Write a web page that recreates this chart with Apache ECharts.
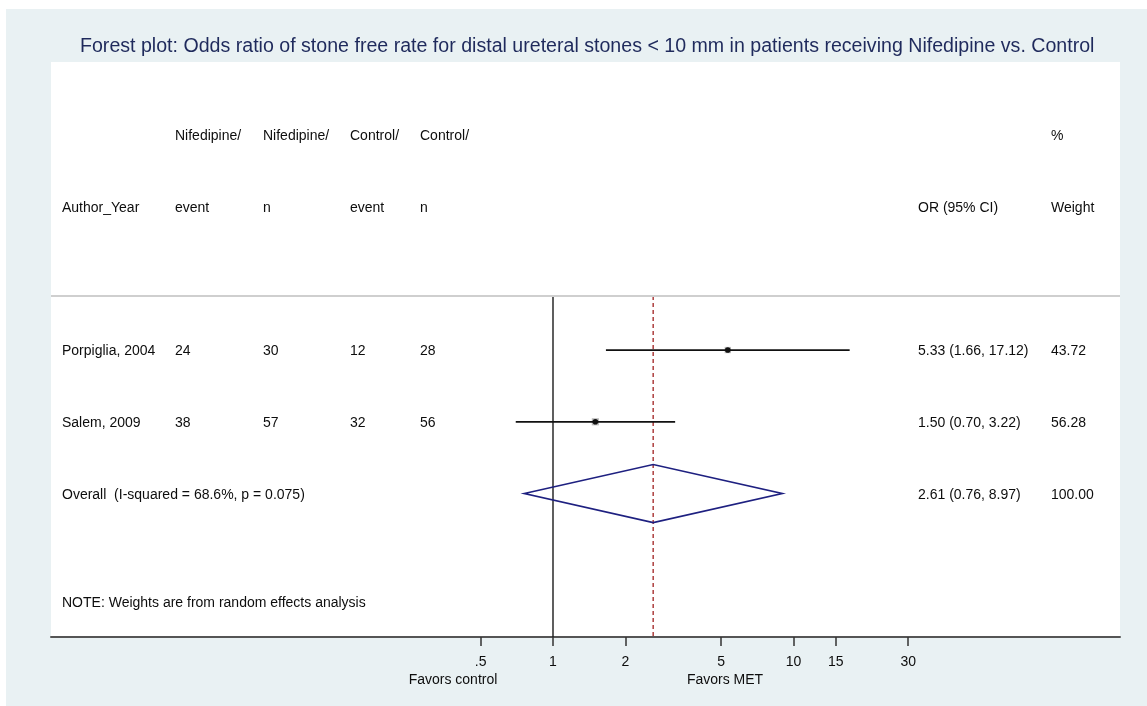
<!DOCTYPE html>
<html>
<head>
<meta charset="utf-8">
<title>Forest plot</title>
<script src="https://cdn.jsdelivr.net/npm/echarts@6/dist/echarts.min.js"></script>
<style>
  html, body { margin: 0; padding: 0; background: #ffffff; }
  #chart { width: 1147px; height: 706px; }
</style>
</head>
<body>
<div id="chart"></div>
<script>
// ---- data ----
const studies     = ['Porpiglia, 2004', 'Salem, 2009'];
const nifEvent    = [24, 38];
const nifN        = [30, 57];
const ctrlEvent   = [12, 32];
const ctrlN       = [28, 56];
const orEst       = [5.33, 1.50];
const orLow       = [1.66, 0.70];
const orHigh      = [17.12, 3.22];
const weights     = [43.72, 56.28];

const overallLabel  = 'Overall  (I-squared = 68.6%, p = 0.075)';
const overallOR     = [2.61, 0.76, 8.97];   // estimate, lower, upper
const overallWeight = 100.00;

const noteText    = 'NOTE: Weights are from random effects analysis';
const headerTop    = ['', 'Nifedipine/', 'Nifedipine/', 'Control/', 'Control/', '', '%'];
const headerBottom = ['Author_Year', 'event', 'n', 'event', 'n', 'OR (95% CI)', 'Weight'];

const tickValues  = [0.5, 1, 2, 5, 10, 15, 30];
const tickLabels  = ['.5', '1', '2', '5', '10', '15', '30'];

const titleText   = 'Forest plot: Odds ratio of stone free rate for distal ureteral stones < 10 mm in patients receiving Nifedipine vs. Control';

// ---- layout ----
const W = 1147, H = 706;
const panel = { left: 51, top: 62, right: 1120, bottom: 637 };
const colLeft = [62, 175, 263, 350, 420, 918, 1051];   // text column starts (px)
const rowHeader = [0, 1];
const rowStudy = [3, 4];
const rowOverall = 5;
const rowNote = 6.512;
const rowSep = 2.247;
const rowMin = -1.015, rowMax = 7;
const nullPx = 553, pxPerDecade = 240.5;
const logMin = (panel.left - nullPx) / pxPerDecade;
const logMax = (panel.right - nullPx) / pxPerDecade;

const FONT = '"Liberation Sans", Arial, Helvetica, sans-serif';
const TXT = '#0d0d0d';

// table cells
const fmt2 = v => v.toFixed(2);
const cells = [];
function addCell(col, row, text) {
  if (text === '' || text == null) return;
  cells.push({ name: String(text), value: [colLeft[col], row] });
}
headerTop.forEach((t, i) => addCell(i, rowHeader[0], t));
headerBottom.forEach((t, i) => addCell(i, rowHeader[1], t));
studies.forEach((s, i) => {
  const r = rowStudy[i];
  addCell(0, r, s);
  addCell(1, r, nifEvent[i]);
  addCell(2, r, nifN[i]);
  addCell(3, r, ctrlEvent[i]);
  addCell(4, r, ctrlN[i]);
  addCell(5, r, fmt2(orEst[i]) + ' (' + fmt2(orLow[i]) + ', ' + fmt2(orHigh[i]) + ')');
  addCell(6, r, fmt2(weights[i]));
});
addCell(0, rowOverall, overallLabel);
addCell(5, rowOverall, fmt2(overallOR[0]) + ' (' + fmt2(overallOR[1]) + ', ' + fmt2(overallOR[2]) + ')');
addCell(6, rowOverall, fmt2(overallWeight));
addCell(0, rowNote, noteText);

const lg = Math.log10;
const studyData = studies.map((s, i) => [lg(orEst[i]), lg(orLow[i]), lg(orHigh[i]), rowStudy[i], weights[i]]);
const pooledData = [[lg(overallOR[0]), lg(overallOR[1]), lg(overallOR[2]), rowOverall]];
const refLines = [
  { value: [0, rowSep, rowMax], kind: 'null' },
  { value: [lg(overallOR[0]), rowSep, rowMax], kind: 'pooled' }
];
const tickLogs = tickValues.map(v => lg(v));

const chart = echarts.init(document.getElementById('chart'), null, { renderer: 'canvas' });

chart.setOption({
  animation: false,
  backgroundColor: '#ffffff',
  textStyle: { fontFamily: FONT },
  title: {
    text: titleText,
    left: 80,
    top: 37,
    padding: 0,
    textStyle: { fontFamily: FONT, fontSize: 19.6, fontWeight: 'normal', color: '#1f2a5c' }
  },
  graphic: [
    { type: 'rect', z: -10, silent: true,
      shape: { x: 6, y: 9, width: W - 6, height: H - 9 },
      style: { fill: '#e9f1f3' } },
    { type: 'rect', z: -9, silent: true,
      shape: { x: panel.left, y: panel.top, width: panel.right - panel.left, height: panel.bottom - panel.top },
      style: { fill: '#ffffff' } },
    { type: 'text', z: 5, silent: true, x: 453, y: 680,
      style: { text: 'Favors control', fill: TXT, font: '14px ' + FONT, textAlign: 'center', textVerticalAlign: 'middle' } },
    { type: 'text', z: 5, silent: true, x: 725, y: 680,
      style: { text: 'Favors MET', fill: TXT, font: '14px ' + FONT, textAlign: 'center', textVerticalAlign: 'middle' } }
  ],
  grid: {
    left: panel.left, top: panel.top,
    right: W - panel.right, bottom: H - panel.bottom,
    outerBoundsMode: 'none',
    containLabel: false,
    show: false
  },
  xAxis: [
    {
      type: 'value',
      min: logMin, max: logMax,
      position: 'bottom',
      splitLine: { show: false },
      axisLine: { show: true, onZero: false, lineStyle: { color: '#555555', width: 2 } },
      axisTick: { show: true, customValues: tickLogs, length: 9, lineStyle: { color: '#333333', width: 1.5 } },
      axisLabel: {
        show: true,
        customValues: tickLogs,
        margin: 18,
        fontSize: 14,
        fontFamily: FONT,
        color: TXT,
        formatter: function (v) {
          for (let i = 0; i < tickLogs.length; i++) {
            if (Math.abs(tickLogs[i] - v) < 1e-6) return tickLabels[i];
          }
          return '';
        }
      }
    },
    {
      type: 'value',
      show: false,
      min: panel.left, max: panel.right
    }
  ],
  yAxis: [{
    type: 'value',
    show: false,
    inverse: true,
    min: rowMin, max: rowMax
  }],
  series: [
    {
      name: 'Table',
      type: 'scatter',
      xAxisIndex: 1,
      yAxisIndex: 0,
      symbolSize: 0,
      silent: true,
      itemStyle: { opacity: 1 },
      data: cells,
      label: {
        show: true,
        position: 'right',
        distance: 0,
        offset: [0, 1.5],
        formatter: p => p.name,
        fontFamily: FONT,
        fontSize: 14,
        color: TXT
      },
      markLine: {
        silent: true,
        symbol: ['none', 'none'],
        label: { show: false },
        lineStyle: { color: '#cfcfcf', width: 2, type: 'solid' },
        data: [{ yAxis: rowSep }]
      }
    },
    {
      name: 'Reference lines',
      type: 'custom',
      xAxisIndex: 0,
      yAxisIndex: 0,
      silent: true,
      clip: false,
      data: refLines,
      renderItem: function (params, api) {
        const a = api.coord([api.value(0), api.value(1)]);
        const b = api.coord([api.value(0), api.value(2)]);
        const pooled = refLines[params.dataIndex].kind === 'pooled';
        return {
          type: 'line',
          shape: { x1: a[0], y1: a[1], x2: b[0], y2: b[1] },
          style: pooled
            ? { stroke: '#b24a4a', lineWidth: 1.6, lineDash: [4, 3] }
            : { stroke: '#1a1a1a', lineWidth: 1.4 }
        };
      }
    },
    {
      name: 'Studies',
      type: 'custom',
      xAxisIndex: 0,
      yAxisIndex: 0,
      silent: true,
      z: 4,
      data: studyData,
      renderItem: function (params, api) {
        const row = api.value(3);
        const c = api.coord([api.value(0), row]);
        const lo = api.coord([api.value(1), row]);
        const hi = api.coord([api.value(2), row]);
        const side = Math.sqrt(api.value(4)) * 0.95;
        return {
          type: 'group',
          children: [
            { type: 'rect', shape: { x: c[0] - side / 2, y: c[1] - side / 2, width: side, height: side },
              style: { fill: '#b9b9b9' } },
            { type: 'line', shape: { x1: lo[0], y1: lo[1], x2: hi[0], y2: hi[1] },
              style: { stroke: '#111111', lineWidth: 1.7 } },
            { type: 'circle', shape: { cx: c[0], cy: c[1], r: 2.8 },
              style: { fill: '#111111' } }
          ]
        };
      }
    },
    {
      name: 'Overall',
      type: 'custom',
      xAxisIndex: 0,
      yAxisIndex: 0,
      silent: true,
      z: 4,
      data: pooledData,
      renderItem: function (params, api) {
        const row = api.value(3);
        const c = api.coord([api.value(0), row]);
        const lo = api.coord([api.value(1), row]);
        const hi = api.coord([api.value(2), row]);
        const half = 29;
        return {
          type: 'polygon',
          shape: { points: [[lo[0], c[1]], [c[0], c[1] - half], [hi[0], c[1]], [c[0], c[1] + half]] },
          style: { fill: 'none', stroke: '#1e2080', lineWidth: 1.7 }
        };
      }
    }
  ]
});
</script>
</body>
</html>
